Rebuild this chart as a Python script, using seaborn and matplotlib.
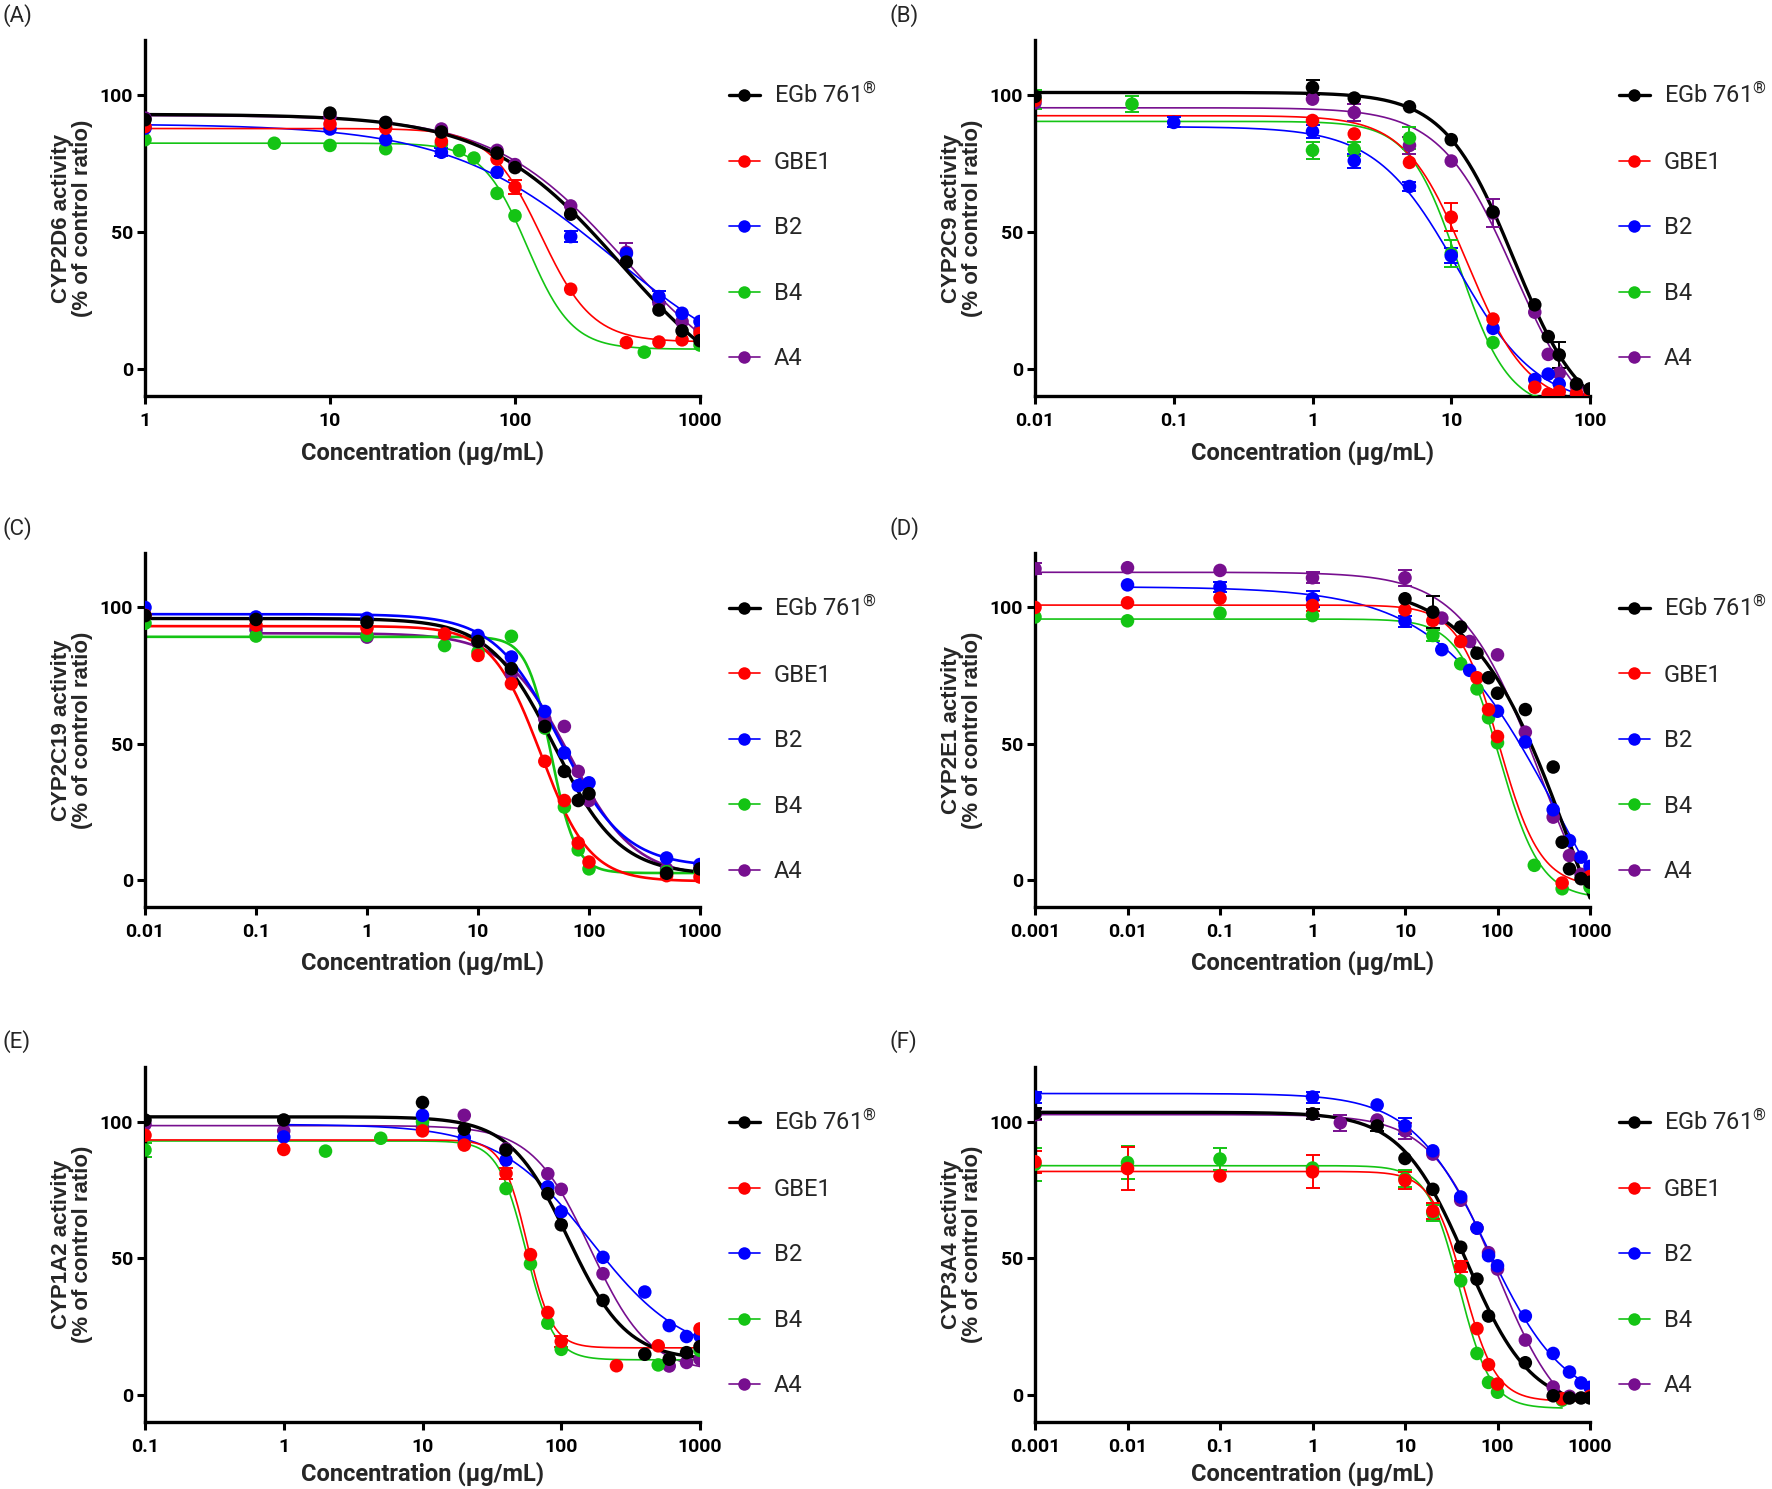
import numpy as np
import pandas as pd
import matplotlib
matplotlib.use("Agg")
import matplotlib.pyplot as plt
from matplotlib import font_manager
from matplotlib.lines import Line2D
from matplotlib.ticker import NullLocator
import seaborn as sns

extracts = ["EGb 761®", "GBE1", "B2", "B4", "A4"]
legend_labels = ["EGb 761$^{®}$", "GBE1", "B2", "B4", "A4"]
colors = ["#000000", "#ff0000", "#0000ff", "#14c414", "#770f8f"]

# (A) CYP2D6
cyp2d6_conc = {
    "EGb 761®": [1, 10, 20, 40, 80, 100, 200, 400, 600, 800, 1000],
    "GBE1": [1, 10, 20, 40, 80, 100, 200, 400, 600, 800, 1000],
    "B2": [1, 10, 20, 40, 80, 200, 400, 600, 800, 1000],
    "B4": [1, 5, 10, 20, 40, 50, 60, 80, 100, 500, 1000],
    "A4": [1, 10, 20, 40, 80, 100, 200, 400, 600, 800, 1000],
}
cyp2d6_act = {
    "EGb 761®": [90.9, 93.3, 89.9, 86.4, 78.7, 73.4, 56.4, 38.9, 21.4, 13.8, 10.2],
    "GBE1": [88.4, 89.3, 87.8, 83.0, 76.5, 66.3, 29.0, 9.5, 9.7, 10.5, 12.9],
    "B2": [87.8, 87.5, 83.6, 79.0, 71.7, 48.2, 42.0, 26.3, 20.2, 17.2],
    "B4": [83.6, 82.3, 81.5, 80.3, 82.0, 79.6, 76.9, 64.0, 55.8, 6.0, 8.6],
    "A4": [91.5, 92.0, 89.8, 87.5, 79.7, 74.5, 59.4, 42.5, 23.9, 17.2, 14.1],
}
cyp2d6_sd = {
    "GBE1": [0, 0, 0, 0, 0, 2.5, 0, 0, 0, 0, 0],
    "B2": [0, 0, 0, 1.5, 0, 2.0, 0, 2.0, 0, 0],
    "A4": [0, 0, 0, 0, 0, 0, 0, 3.3, 0, 0, 0],
}

# (B) CYP2C9
cyp2c9_conc = {
    "EGb 761®": [0.01, 1, 2, 5, 10, 20, 40, 50, 60, 80, 100],
    "GBE1": [0.01, 1, 2, 5, 10, 20, 40, 50, 60, 80, 100],
    "B2": [0.1, 1, 2, 5, 10, 20, 40, 50, 60, 80, 100],
    "B4": [0.01, 0.05, 1, 2, 5, 10, 20, 40, 50, 60, 80, 100],
    "A4": [0.01, 1, 2, 5, 10, 20, 40, 50, 60, 80, 100],
}
cyp2c9_act = {
    "EGb 761®": [99.4, 102.7, 98.8, 95.6, 83.6, 57.2, 23.3, 11.7, 5.0, -5.6, -7.4],
    "GBE1": [98.0, 90.6, 85.7, 75.3, 55.3, 18.1, -6.8, -9.3, -8.4, -9.0, -10.0],
    "B2": [89.9, 86.6, 75.9, 66.5, 41.2, 14.7, -4.0, -2.0, -5.6, -9.6, -10.2],
    "B4": [98.4, 96.6, 79.7, 80.1, 84.2, 42.0, 9.5, -12.0, -13.0, -13.0, -14.0, -14.0],
    "A4": [97.0, 98.4, 93.5, 81.5, 75.8, 56.8, 20.6, 5.2, -1.7, -6.6, -8.0],
}
cyp2c9_sd = {
    "EGb 761®": [0, 2.8, 0, 0, 0, 0, 0, 0, 4.8, 0, 0],
    "GBE1": [0, 0, 0, 0, 5.2, 0, 0, 0, 0, 0, 0],
    "B2": [1.8, 2.5, 2.5, 1.8, 2.8, 0, 0, 0, 0, 0, 0],
    "B4": [3.5, 3.0, 3.2, 2.5, 4.0, 5.0, 0, 0, 0, 0, 0, 0],
    "A4": [0, 0, 3.0, 3.0, 0, 5.0, 0, 0, 0, 0, 0],
}

# (C) CYP2C19
cyp2c19_conc = {
    "EGb 761®": [0.01, 0.1, 1, 10, 20, 40, 60, 80, 100, 500, 1000],
    "GBE1": [0.01, 0.1, 1, 5, 10, 20, 40, 60, 80, 100, 500, 1000],
    "B2": [0.01, 0.1, 1, 10, 20, 40, 60, 80, 100, 500, 1000],
    "B4": [0.01, 0.1, 1, 5, 10, 20, 40, 60, 80, 100, 500, 1000],
    "A4": [0.1, 1, 10, 20, 40, 60, 80, 100, 500, 1000],
}
cyp2c19_act = {
    "EGb 761®": [97.0, 95.6, 94.6, 87.5, 77.5, 56.3, 39.8, 29.1, 31.6, 2.4, 4.0],
    "GBE1": [97.1, 93.5, 92.4, 90.3, 82.4, 72.0, 43.5, 29.1, 13.5, 6.5, 1.5, 1.0],
    "B2": [100.0, 96.5, 96.0, 89.7, 81.8, 61.8, 46.6, 34.6, 35.6, 8.0, 5.6],
    "B4": [94.2, 89.5, 89.7, 86.0, 83.6, 89.4, 55.7, 26.7, 11.0, 4.0, 3.0, 3.0],
    "A4": [91.8, 89.1, 87.0, 75.6, 59.0, 56.3, 39.8, 29.1, 4.0, 4.0],
}
cyp2c19_sd = {}

# (D) CYP2E1
cyp2e1_conc = {
    "EGb 761®": [10, 20, 40, 60, 80, 100, 200, 400, 500, 600, 800, 1000],
    "GBE1": [0.001, 0.01, 0.1, 1, 10, 20, 40, 60, 80, 100, 500, 1000],
    "B2": [0.01, 0.1, 1, 10, 25, 50, 100, 200, 400, 600, 800, 1000],
    "B4": [0.001, 0.01, 0.1, 1, 20, 40, 60, 80, 100, 250, 500, 1000],
    "A4": [0.001, 0.01, 0.1, 1, 10, 25, 50, 100, 200, 400, 600, 800, 1000],
}
cyp2e1_act = {
    "EGb 761®": [103.2, 98.3, 92.8, 83.2, 74.2, 68.5, 62.5, 41.4, 13.8, 4.0, 0.4, -0.9],
    "GBE1": [100.0, 101.7, 103.4, 100.7, 99.1, 95.2, 87.5, 74.2, 62.5, 52.6, -1.2, 1.2],
    "B2": [108.3, 107.5, 103.2, 95.0, 84.5, 76.9, 61.9, 50.6, 25.7, 14.4, 8.3, 4.9],
    "B4": [96.5, 95.1, 97.9, 97.0, 89.7, 79.3, 70.1, 59.5, 50.3, 5.3, -3.3, -2.7],
    "A4": [114.2, 114.6, 113.6, 110.9, 110.9, 96.1, 87.5, 82.6, 54.2, 23.0, 8.9, 2.0, -1.0],
}
cyp2e1_sd = {
    "EGb 761®": [0, 6.0, 0, 0, 0, 0, 0, 0, 0, 0, 0, 0],
    "GBE1": [0, 0, 0, 2.0, 0, 0, 0, 0, 0, 0, 0, 0],
    "B2": [0, 2.0, 3.0, 2.0, 0, 0, 0, 0, 0, 0, 0, 0],
    "B4": [0, 0, 0, 0, 2.0, 0, 0, 0, 0, 0, 0, 0],
    "A4": [2.0, 0, 0, 2.0, 3.0, 0, 0, 0, 0, 0, 0, 0, 0],
}

# (E) CYP1A2
cyp1a2_conc = {
    "EGb 761®": [0.1, 1, 10, 20, 40, 80, 100, 200, 400, 600, 800, 1000],
    "GBE1": [0.1, 1, 10, 20, 40, 60, 80, 100, 250, 500, 1000],
    "B2": [1, 10, 20, 40, 80, 100, 200, 400, 600, 800, 1000],
    "B4": [0.1, 2, 5, 10, 20, 40, 60, 80, 100, 500, 1000],
    "A4": [0.1, 1, 10, 20, 40, 80, 100, 200, 600, 800, 1000],
}
cyp1a2_act = {
    "EGb 761®": [100.6, 100.6, 107.0, 97.2, 89.6, 73.6, 62.2, 34.5, 14.8, 13.0, 15.4, 17.6],
    "GBE1": [95.0, 89.8, 96.6, 91.4, 81.0, 51.3, 30.1, 19.5, 10.6, 17.9, 24.1],
    "B2": [94.4, 102.3, 94.1, 85.9, 76.1, 67.0, 50.3, 37.6, 25.3, 21.3, 21.5],
    "B4": [89.6, 89.2, 93.9, 99.9, 92.0, 75.5, 47.9, 26.2, 16.6, 10.9, 16.2],
    "A4": [99.0, 96.6, 98.0, 102.3, 90.0, 80.9, 75.2, 44.3, 10.5, 11.8, 13.0],
}
cyp1a2_sd = {
    "GBE1": [0, 0, 0, 0, 2.0, 0, 0, 2.0, 0, 0, 0],
    "B4": [2.5, 0, 0, 0, 0, 0, 0, 0, 0, 0, 0],
}

# (F) CYP3A4
cyp3a4_conc = {
    "EGb 761®": [0.001, 1, 5, 10, 20, 40, 60, 80, 200, 400, 600, 800, 1000],
    "GBE1": [0.001, 0.01, 0.1, 1, 10, 20, 40, 60, 80, 100, 500, 1000],
    "B2": [0.001, 1, 5, 10, 20, 40, 60, 80, 100, 200, 400, 600, 800, 1000],
    "B4": [0.001, 0.01, 0.1, 1, 10, 20, 40, 60, 80, 100, 500],
    "A4": [0.001, 1, 2, 5, 10, 20, 40, 60, 80, 100, 200, 400, 600],
}
cyp3a4_act = {
    "EGb 761®": [103.1, 102.8, 98.4, 86.5, 75.2, 54.0, 42.3, 28.8, 11.7, -0.4, -1.2, -1.2, -1.2],
    "GBE1": [85.3, 82.8, 80.1, 81.6, 78.5, 67.2, 46.9, 24.2, 11.0, 3.9, -1.5, -0.6],
    "B2": [109.0, 109.0, 106.1, 98.5, 89.3, 72.4, 61.0, 50.9, 47.2, 28.8, 15.1, 8.3, 4.3, 2.7],
    "B4": [84.4, 85.0, 86.3, 83.0, 79.1, 66.5, 41.7, 15.1, 4.5, 0.9, -2.0],
    "A4": [102.5, 102.8, 99.6, 100.6, 96.6, 88.1, 71.2, 61.0, 52.0, 46.0, 20.0, 2.8, -0.6],
}
cyp3a4_sd = {
    "EGb 761®": [2.0, 2.0, 2.0, 0, 0, 0, 0, 0, 0, 0, 0, 0, 0],
    "GBE1": [4.0, 8.0, 0, 6.0, 3.0, 3.0, 2.0, 0, 0, 0, 0, 0],
    "B2": [2.0, 2.0, 0, 3.0, 0, 0, 0, 0, 0, 0, 0, 0, 0, 0],
    "B4": [6.0, 6.0, 4.0, 0, 3.0, 3.0, 0, 0, 0, 0, 0],
    "A4": [2.0, 0, 3.0, 0, 3.0, 0, 0, 0, 0, 0, 0, 0, 0],
}

panels = [
    ("(A)", "CYP2D6", cyp2d6_conc, cyp2d6_act, cyp2d6_sd, [1, 10, 100, 1000], ["1", "10", "100", "1000"]),
    ("(B)", "CYP2C9", cyp2c9_conc, cyp2c9_act, cyp2c9_sd, [0.01, 0.1, 1, 10, 100], ["0.01", "0.1", "1", "10", "100"]),
    ("(C)", "CYP2C19", cyp2c19_conc, cyp2c19_act, cyp2c19_sd, [0.01, 0.1, 1, 10, 100, 1000],
     ["0.01", "0.1", "1", "10", "100", "1000"]),
    ("(D)", "CYP2E1", cyp2e1_conc, cyp2e1_act, cyp2e1_sd, [0.001, 0.01, 0.1, 1, 10, 100, 1000],
     ["0.001", "0.01", "0.1", "1", "10", "100", "1000"]),
    ("(E)", "CYP1A2", cyp1a2_conc, cyp1a2_act, cyp1a2_sd, [0.1, 1, 10, 100, 1000], ["0.1", "1", "10", "100", "1000"]),
    ("(F)", "CYP3A4", cyp3a4_conc, cyp3a4_act, cyp3a4_sd, [0.001, 0.01, 0.1, 1, 10, 100, 1000],
     ["0.001", "0.01", "0.1", "1", "10", "100", "1000"]),
]


def fit_4pl(x, y):
    # least squares 4-parameter logistic: grid over logIC50/hill, top & bottom solved linearly
    lx = np.log10(np.asarray(x, float))
    y = np.asarray(y, float)
    lc = np.arange(lx.min() - 0.5, lx.max() + 0.5, 0.005)
    hs = np.geomspace(0.3, 12, 160)
    f = 1.0 / (1.0 + 10 ** ((lx[None, None, :] - lc[:, None, None]) * hs[None, :, None]))
    g = 1.0 - f
    sgg = (g * g).sum(-1); sff = (f * f).sum(-1); sgf = (g * f).sum(-1)
    sgy = (g * y).sum(-1); sfy = (f * y).sum(-1)
    det = sgg * sff - sgf ** 2
    ok = det > 1e-3
    det = np.where(ok, det, 1.0)
    bot = (sff * sgy - sgf * sfy) / det
    top = (sgg * sfy - sgf * sgy) / det
    res = ((y - bot[..., None] * g - top[..., None] * f) ** 2).sum(-1)
    res = np.where(ok & (top > bot), res, np.inf)
    i, j = np.unravel_index(np.argmin(res), res.shape)
    return top[i, j], bot[i, j], lc[i], hs[j]


sns.set_theme(style="ticks")
plt.rcParams["font.family"] = ["Roboto", "DejaVu Sans"]
plt.rcParams["mathtext.fontset"] = "custom"
plt.rcParams["mathtext.rm"] = "Roboto"
plt.rcParams["mathtext.it"] = "Roboto"
plt.rcParams["mathtext.bf"] = "Roboto:bold"
plt.rcParams["axes.linewidth"] = 2.2

# y labels are set in a tall narrow bold face in the original
installed = {f.name for f in font_manager.fontManager.ttflist}
if "Liberation Sans Narrow" in installed:
    ylab_family, ylab_size = ["Liberation Sans Narrow", "DejaVu Sans"], 18
elif "DejaVu Sans Condensed" in installed:
    ylab_family, ylab_size = ["DejaVu Sans Condensed", "DejaVu Sans"], 16
else:
    ylab_family, ylab_size = ["Liberation Sans", "DejaVu Sans"], 16

pal = dict(zip(extracts, colors))

fig = plt.figure(figsize=(17.72, 14.89), dpi=100)
W, H = 1772, 1489
lefts = [145 / W, 1035 / W]
width = 555 / W
tops = [40, 553, 1067]
bots = [396, 907, 1422]
letter_y = [16, 529, 1042]
xlab_y = [-0.126, -0.122, -0.112]

for i, (letter, enzyme, conc, act, sd, ticks, ticklabels) in enumerate(panels):
    row, col = divmod(i, 2)
    ax = fig.add_axes([lefts[col], 1 - bots[row] / H, width, (bots[row] - tops[row]) / H])
    ax.set_xscale("log")

    lw_curve = 1.9 if enzyme == "CYP2C19" else 1.2
    pts, curves = [], []
    for ext in extracts[::-1]:
        x = np.array(conc[ext], float)
        y = np.array(act[ext], float)
        pts.append(pd.DataFrame({"conc": x, "act": y, "extract": ext}))
        top, bot, lic, hill = fit_4pl(x, y)
        xs = np.geomspace(x.min(), x.max(), 400)
        ys = bot + (top - bot) / (1 + 10 ** ((np.log10(xs) - lic) * hill))
        curves.append(pd.DataFrame({"conc": xs, "fit": ys, "extract": ext}))
    pts = pd.concat(pts, ignore_index=True)
    curves = pd.concat(curves, ignore_index=True)

    sizes = {e: (2.4 if e == extracts[0] else lw_curve) for e in extracts}
    sns.lineplot(data=curves, x="conc", y="fit", hue="extract", size="extract", sizes=sizes,
                 palette=pal, estimator=None, sort=False, legend=False, ax=ax, zorder=2)

    for ext in extracts[::-1]:
        if ext not in sd:
            continue
        e = np.array(sd[ext], float)
        m = e > 0
        ax.errorbar(np.array(conc[ext])[m], np.array(act[ext])[m], yerr=e[m], fmt="none",
                    ecolor=pal[ext], elinewidth=1.4, capsize=5, capthick=1.4, zorder=2.5)

    sns.scatterplot(data=pts, x="conc", y="act", hue="extract", palette=pal, s=95,
                    linewidth=0, legend=False, ax=ax, zorder=3)

    ax.set_xlim(ticks[0], ticks[-1])
    ax.set_ylim(-10, 120)
    ax.set_xticks(ticks, ticklabels, fontweight="bold", fontsize=14)
    ax.set_yticks([0, 50, 100], ["0", "50", "100"], fontweight="bold", fontsize=14)
    ax.xaxis.set_minor_locator(NullLocator())
    ax.tick_params(axis="both", direction="out", length=5.5, width=2.2, colors="black")
    ax.tick_params(axis="x", pad=6)
    ax.tick_params(axis="y", pad=3)
    sns.despine(ax=ax)
    for s in ("left", "bottom"):
        ax.spines[s].set_color("black")
        ax.spines[s].set_linewidth(2.4)

    ax.set_xlabel("Concentration (µg/mL)", fontsize=17, fontweight="bold")
    ax.xaxis.set_label_coords(0.5, xlab_y[row])
    ax.set_ylabel(f"{enzyme} activity\n(% of control ratio)", fontsize=ylab_size, fontweight="bold",
                  family=ylab_family, linespacing=1.0)
    ax.yaxis.set_label_coords(-0.094, 0.5)

    handles = [Line2D([0], [0], color=c, lw=(2.4 if k == 0 else 1.2), marker="o", markersize=9,
                      markeredgewidth=0) for k, c in enumerate(colors)]
    ax.legend(handles, legend_labels, loc="upper left", bbox_to_anchor=(1.052, 0.88), frameon=False,
              borderpad=0, borderaxespad=0, handlelength=1.3, handletextpad=0.6, labelspacing=1.8,
              fontsize=17)

    fig.text((2 if col == 0 else 890) / W, 1 - letter_y[row] / H, letter, fontsize=16, va="center", ha="left")

fig.savefig("out.png", dpi=100)
